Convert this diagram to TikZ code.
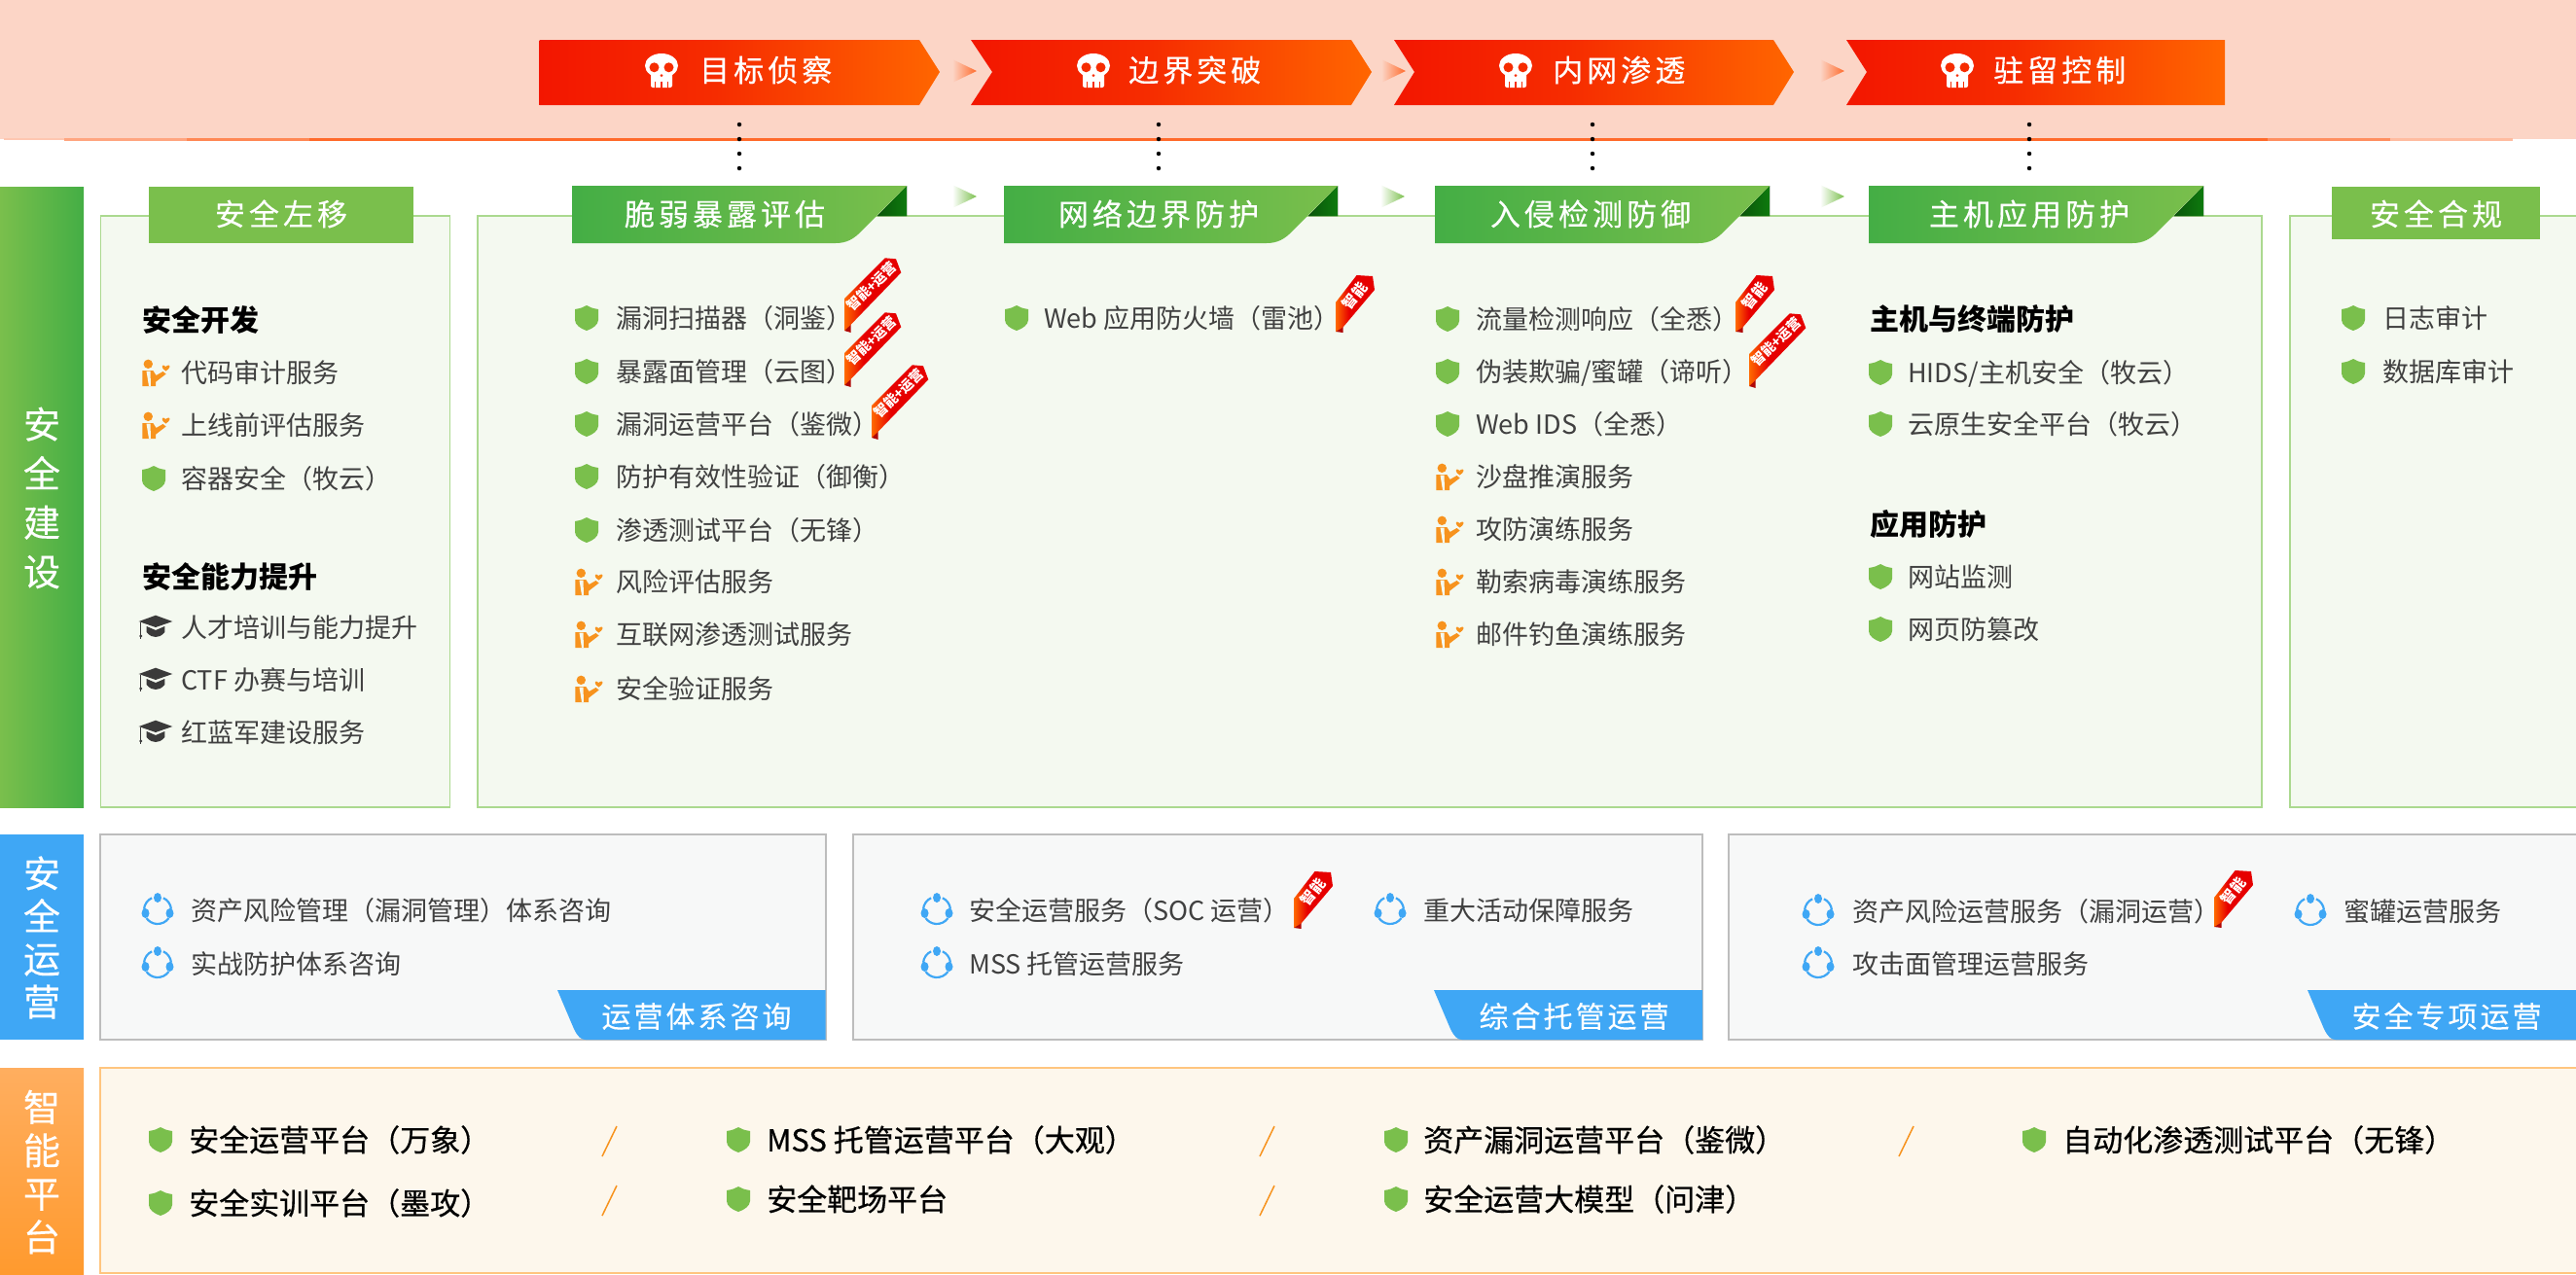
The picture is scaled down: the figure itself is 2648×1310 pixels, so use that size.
\documentclass[tikz,border=0pt]{standalone}
\usepackage{fontspec}
\setmainfont{Noto Sans CJK SC}
\newfontfamily\headfont[LetterSpace=13,FakeBold=0.3]{Noto Sans CJK SC}
\newfontfamily\opfont[LetterSpace=10,FakeBold=0.2]{Noto Sans CJK SC}
\newfontfamily\sidefont[FakeBold=0.3]{Noto Sans CJK SC}
\newfontfamily\medfont[FakeBold=0.5]{Noto Sans CJK SC}
\definecolor{bandc}{HTML}{FCD5C6}
\definecolor{lineo}{HTML}{FF6A2B}
\definecolor{chevl}{HTML}{F31600}
\definecolor{chevm}{HTML}{F62C00}
\definecolor{chevr}{HTML}{FF6600}
\definecolor{gdark}{HTML}{44AE45}
\definecolor{glight}{HTML}{7ABF4C}
\definecolor{pfill}{HTML}{F4F9F0}
\definecolor{pline}{HTML}{ABD98F}
\definecolor{bluec}{HTML}{3FA7F5}
\definecolor{opsfill}{HTML}{F7F8F8}
\definecolor{opsline}{HTML}{BDBDBD}
\definecolor{orgtop}{HTML}{FFAE5F}
\definecolor{orgbot}{HTML}{FF9A2E}
\definecolor{orgfill}{HTML}{FDF7EC}
\definecolor{orgline}{HTML}{FFC57F}
\definecolor{txtc}{HTML}{404040}
\definecolor{persc}{HTML}{F7931E}
\definecolor{darktri}{HTML}{0E7A0E}
\definecolor{ribred}{HTML}{E60000}
\definecolor{ribor}{HTML}{FF6A00}
\definecolor{ribdark}{HTML}{B00808}
\definecolor{hatc}{HTML}{3A3A3A}
\pgfdeclarehorizontalshading{ribsh}{100bp}{color(0bp)=(ribor); color(25bp)=(ribor); color(42bp)=(ribred); color(100bp)=(ribred)}
\pgfdeclarehorizontalshading{chevsh}{100bp}{color(0bp)=(chevl); color(25bp)=(chevl); color(47bp)=(chevm); color(75bp)=(chevr); color(100bp)=(chevr)}
\tikzset{
 itxt/.style={anchor=west,inner sep=0pt,text=txtc,font=\fontsize{27}{27}\selectfont,text height=23.8pt,text depth=3.2pt},
 htxt/.style={anchor=west,inner sep=0pt,text=black,font=\fontsize{30}{30}\selectfont\bfseries,text height=26.4pt,text depth=3.6pt},
 btxt/.style={anchor=west,inner sep=0pt,text=black,font=\fontsize{31}{31}\selectfont\medfont,text height=27.3pt,text depth=3.7pt},
 wtxt/.style={inner sep=0pt,text=white,font=\fontsize{31}{31}\selectfont\headfont,text height=27.3pt,text depth=3.7pt},
 otxt/.style={inner sep=0pt,text=white,font=\fontsize{30}{30}\selectfont\opfont,text height=26.4pt,text depth=3.6pt},
 chtxt/.style={wtxt,anchor=west},
 sidetxt/.style={inner sep=0pt,text=white,align=center,font=\fontsize{38}{#1}\selectfont\sidefont},
 panel/.style={fill=pfill,draw=pline,line width=1.5pt},
 opanel/.style={fill=opsfill,draw=opsline,line width=2pt},
 chev/.style={shading=chevsh},
 ribshade/.style={shading=ribsh},
 ghd/.style={left color=gdark,right color=glight},
 slashl/.style={draw=persc,line width=1.5pt},
 dotl/.style={line width=4.5pt,line cap=round,dash pattern=on 0pt off 15pt,black},
 ribtxt/.style={inner sep=0pt,text=white,font=\fontsize{#1}{#1}\selectfont\bfseries},
 opsicon/.style={draw=bluec,line width=2.2pt},
}
\newcounter{nn}
\newcommand\skullat[2]{\begin{scope}[shift={(#1,#2)}]
 \fill[white] (0,-4.5) ellipse (17 and 12.5);
 \fill[white,rounded corners=2pt] (-11,0) rectangle (11,18);
 \fill[chevm] (-7.5,-2.7) circle (5);
 \fill[chevm] (7.5,-2.7) circle (5);
 \fill[chevm] (0,5.7) circle (1.5);
 \foreach \q in {-6.3,0,6.3}{\draw[chevm,line width=1.4pt] (\q,11.5) -- (\q,18.5);}
 \end{scope}}
\newcommand\shieldat[2]{\begin{scope}[shift={(#1,#2)}]
 \fill[glight] (-12,-9) .. controls (-6,-10) and (-3,-11) .. (0,-13) .. controls (3,-11) and (6,-10) .. (12,-9) -- (12,2) .. controls (12,7) and (6,11) .. (0,13) .. controls (-6,11) and (-12,7) .. (-12,2) -- cycle;
 \end{scope}}
\newcommand\persat[2]{\begin{scope}[shift={(#1,#2)}]
 \fill[persc] (-7.7,-8.7) circle (4.7);
 \fill[persc] (-13.7,-2) -- (-2.7,-2) -- (0.5,3) -- (7.5,-1) -- (10.7,1.5) -- (0,9.7) -- (0,14) -- (-13.7,14) -- cycle;
 \fill[pfill] (-9.5,-1.5) -- (-5.5,-1.5) -- (-5,14) -- (-7,14) -- cycle;
 \fill[persc] (10.5,-1.5) .. controls (6,-4) and (6,-7.5) .. (8,-7.5) .. controls (9.5,-7.5) and (10,-6.5) .. (10.5,-6) .. controls (11,-6.5) and (12,-7.5) .. (13.5,-7.5) .. controls (15,-7.5) and (15,-4) .. (10.5,-1.5) -- cycle;
 \end{scope}}
\newcommand\hatat[2]{\begin{scope}[shift={(#1,#2)}]
 \fill[hatc] (0,-12.3) -- (17.3,-6) -- (0,0) -- (-17.3,-6) -- cycle;
 \fill[hatc] (-9.3,-1) -- (0,3) -- (9.3,-1) -- (9.3,5) .. controls (6,9) and (3,10) .. (0,10) .. controls (-3,10) and (-6,9) .. (-9.3,5) -- cycle;
 \draw[hatc,line width=1pt] (-15.3,-5) -- (-15.3,12);
 \fill[hatc] (-15.3,9) circle (1.6);
 \end{scope}}
\newcommand\opsat[2]{\begin{scope}[shift={(#1,#2+1)}]
 \draw[opsicon] (0,0) ++(35:14) arc (35:145:14);
 \draw[opsicon] (0,0) ++(185:14) arc (185:245:14);
 \draw[opsicon] (0,0) ++(295:14) arc (295:355:14);
 \fill[bluec] (0,-13) ellipse (4 and 5);
 \fill[bluec] (-12.5,3) ellipse (4 and 5);
 \fill[bluec] (12.5,3) ellipse (4 and 5);
 \end{scope}}
% icon x, text x, y, text
\newcommand\ilS[4]{\shieldat{#1}{#3}\stepcounter{nn}\node[itxt] (t\arabic{nn}) at (#2,#3) {#4};}
\newcommand\ilP[4]{\persat{#1}{#3}\stepcounter{nn}\node[itxt] (t\arabic{nn}) at (#2,#3) {#4};}
\newcommand\ilH[4]{\hatat{#1}{#3}\stepcounter{nn}\node[itxt] (t\arabic{nn}) at (#2,#3) {#4};}
\newcommand\ilO[4]{\opsat{#1}{#3}\stepcounter{nn}\node[itxt,yshift=-1.2pt] (t\arabic{nn}) at (#2,#3) {#4};}
\newcommand\ilB[4]{\shieldat{#1}{#3}\stepcounter{nn}\node[btxt] (t\arabic{nn}) at (#2,#3) {#4};}
\newcommand\hdg[3]{\stepcounter{nn}\node[htxt] (t\arabic{nn}) at (#1,#2) {#3};}
% left, right, text centre, label
\newcommand\ghead[4]{\pgfmathsetmacro\ha{#2-30}\pgfmathsetmacro\hb{#2-45}\pgfmathsetmacro\hc{#2-54}\pgfmathsetmacro\hd{#2-62}\pgfmathsetmacro\he{#2-73}
 \fill[left color=darktri!70!black,right color=darktri] (#2,191) -- (#2,222) -- (\ha,222) -- cycle;
 \shade[ghd] (#1,191) -- (#2,191) -- (\hb,236) .. controls (\hc,246) and (\hd,250) .. (\he,250) -- (#1,250) -- cycle;
 \stepcounter{nn}\node[wtxt] (t\arabic{nn}) at (#3,220) {#4};}
\newcommand\chevtext[3]{\stepcounter{nn}\node[chtxt] (t\arabic{nn}) at (#1,#2) {#3};}
% x, start colour, end colour, y
\newcommand\garrow[4]{\pgfmathsetmacro\ha{#1+25}\shade[left color=#2,right color=#3] (#1,#4-12) -- (\ha,#4) -- (#1,#4+12) -- cycle;}
\newcommand\ribA[2]{\begin{scope}[shift={(#1,#2)}]
 \fill[ribdark] (0,-3) -- (6.7,-8) -- (6.7,1) -- (0,-1) -- cycle;
 \shade[ribshade] (0,-34) -- (41.7,-75.7) -- (53,-74.7) -- (58.3,-60.7) -- (6.7,-7.3) -- (0,-1) -- cycle;
 \stepcounter{nn}\node[ribtxt=14,rotate=44] (t\arabic{nn}) at (27.7,-46.7) {智能+运营};
 \end{scope}}
\newcommand\ribB[2]{\begin{scope}[shift={(#1,#2)}]
 \fill[ribdark] (0,-3) -- (7.7,-7) -- (7.7,0) -- (0,-1) -- cycle;
 \shade[ribshade] (0,-31) -- (21.6,-59) -- (38,-58) -- (40,-44) -- (7.7,-5.7) -- (0,-1) -- cycle;
 \stepcounter{nn}\node[ribtxt=15,rotate=52] (t\arabic{nn}) at (19.5,-38) {智能};
 \end{scope}}
\newcommand\blabel[4]{\pgfmathsetmacro\ha{#1+17}\pgfmathsetmacro\hb{#1+21}\pgfmathsetmacro\hc{#1+24}\pgfmathsetmacro\hd{#1+29}
 \fill[bluec] (#1,1018) -- (#2,1018) -- (#2,1069) -- (\hd,1069) .. controls (\hc,1069) and (\hb,1066) .. (\ha,1058) -- cycle;
 \stepcounter{nn}\node[otxt] (t\arabic{nn}) at (#3,1045) {#4};}
\begin{document}
\begin{tikzpicture}[x=1pt,y=-1pt]
\useasboundingbox (0,0) rectangle (2648,1310);
% top band with its stepped rule
\fill[bandc] (0,0) rectangle (2648,142.7);
\fill[bandc!65!lineo!70!white] (4,142) rectangle (66,144);
\fill[lineo!60!white] (66,142) rectangle (192,144.5);
\fill[lineo!80!white] (192,142) rectangle (318,144.5);
\fill[lineo] (318,142) rectangle (2331,144.5);
\fill[lineo!75!white] (2331,142) rectangle (2457,144.5);
\fill[lineo!45!white] (2457,142) rectangle (2583,144.5);
% chevrons
\garrow{979}{bandc}{lineo}{73}\garrow{1420}{bandc}{lineo}{73}\garrow{1871}{bandc}{lineo}{73}
\shade[chev] (554.5,41) -- (945,41) -- (966,74) -- (945,108) -- (554.5,108) -- cycle;
\shade[chev] (998,41) -- (1389,41) -- (1410,74) -- (1389,108) -- (998,108) -- (1020,74) -- cycle;
\shade[chev] (1433,41) -- (1823,41) -- (1844,74) -- (1823,108) -- (1433,108) -- (1454,74) -- cycle;
\shade[chev] (1898,41) -- (2287,41) -- (2287,108) -- (1898,108) -- (1919,74) -- cycle;
\skullat{680}{72}\skullat{1124}{72}\skullat{1558}{72}\skullat{2012}{72}
\chevtext{719}{72}{目标侦察}
\chevtext{1160}{72}{边界突破}
\chevtext{1596}{72}{内网渗透}
\chevtext{2049}{72}{驻留控制}
% dotted links
\coordinate (a1) at (760,128);\coordinate (b1) at (760,173);
\coordinate (a2) at (1191,128);\coordinate (b2) at (1191,173);
\coordinate (a3) at (1637,128);\coordinate (b3) at (1637,173);
\coordinate (a4) at (2086,128);\coordinate (b4) at (2086,173);
\foreach \i in {1,2,3,4}{\draw[dotl] (a\i) -- (b\i);}
% side bars
\shade[left color=glight,right color=gdark] (0,192) rectangle (86,830);
\node[sidetxt=50.5] (s1) at (43,512) {安\\全\\建\\设};
\fill[bluec] (0,858) rectangle (86,1069);
\node[sidetxt=44] (s2) at (43,964) {安\\全\\运\\营};
\shade[top color=orgtop,bottom color=orgbot] (0,1098) rectangle (86,1310);
\node[sidetxt=44.5] (s3) at (43,1205) {智\\能\\平\\台};
% panels
\filldraw[panel] (103.5,222) rectangle (462.5,830);
\filldraw[panel] (491,222) rectangle (2325,830);
\filldraw[panel] (2354,222) rectangle (2660,830);
% flat headers
\fill[glight] (153,192) rectangle (425,250);
\node[wtxt] (h1) at (289,220) {安全左移};
\fill[glight] (2397,192) rectangle (2611,246);
\node[wtxt] (h2) at (2504,220) {安全合规};
% green headers
\ghead{588}{932}{745}{脆弱暴露评估}
\ghead{1032}{1375}{1191}{网络边界防护}
\ghead{1475}{1819}{1635}{入侵检测防御}
\ghead{1921}{2265}{2086}{主机应用防护}
\garrow{979}{white}{glight}{202}\garrow{1419}{white}{glight}{202}\garrow{1871}{white}{glight}{202}
% panel 1
\hdg{146}{329}{安全开发}
\ilP{160}{186}{383}{代码审计服务}
\ilP{160}{186}{437}{上线前评估服务}
\ilS{158}{186}{492}{容器安全（牧云）}
\hdg{146}{593}{安全能力提升}
\ilH{160}{186}{645}{人才培训与能力提升}
\ilH{160}{186}{699}{CTF 办赛与培训}
\ilH{160}{186}{753}{红蓝军建设服务}
% col 1
\ilS{603}{633}{327}{漏洞扫描器（洞鉴）}
\ilS{603}{633}{382}{暴露面管理（云图）}
\ilS{603}{633}{436}{漏洞运营平台（鉴微）}
\ilS{603}{633}{490}{防护有效性验证（御衡）}
\ilS{603}{633}{545}{渗透测试平台（无锋）}
\ilP{605}{633}{598}{风险评估服务}
\ilP{605}{633}{652}{互联网渗透测试服务}
\ilP{605}{633}{708}{安全验证服务}
\ribA{868}{341}\ribA{868}{397}\ribA{896}{451}
% col 2
\ilS{1045}{1073}{327}{Web 应用防火墙（雷池）}
\ribB{1373}{342}
% col 3
\ilS{1488}{1517}{328}{流量检测响应（全悉）}
\ilS{1488}{1517}{382}{伪装欺骗/蜜罐（谛听）}
\ilS{1488}{1517}{436}{Web IDS（全悉）}
\ilP{1490}{1517}{490}{沙盘推演服务}
\ilP{1490}{1517}{544}{攻防演练服务}
\ilP{1490}{1517}{598}{勒索病毒演练服务}
\ilP{1490}{1517}{652}{邮件钓鱼演练服务}
\ribB{1784}{342}\ribA{1798}{398}
% col 4
\hdg{1922}{328}{主机与终端防护}
\ilS{1933}{1961}{383}{HIDS/主机安全（牧云）}
\ilS{1933}{1961}{436}{云原生安全平台（牧云）}
\hdg{1922}{539}{应用防护}
\ilS{1933}{1961}{593}{网站监测}
\ilS{1933}{1961}{647}{网页防篡改}
% col 5
\ilS{2419}{2449}{327}{日志审计}
\ilS{2419}{2449}{382}{数据库审计}
% ops row
\filldraw[opanel] (103,858) rectangle (848.5,1069);
\filldraw[opanel] (877,858) rectangle (1750,1069);
\filldraw[opanel] (1777,858) rectangle (2660,1069);
\blabel{573}{848.5}{716}{运营体系咨询}
\blabel{1474}{1750}{1618}{综合托管运营}
\blabel{2372}{2648}{2515}{安全专项运营}
\ilO{162}{196}{935}{资产风险管理（漏洞管理）体系咨询}
\ilO{162}{196}{990}{实战防护体系咨询}
\ilO{963}{996}{935}{安全运营服务（SOC 运营）}
\ilO{963}{996}{990}{MSS 托管运营服务}
\ilO{1429}{1463}{935}{重大活动保障服务}
\ribB{1330}{955}
\ilO{1869}{1904}{936}{资产风险运营服务（漏洞运营）}
\ilO{1869}{1904}{990}{攻击面管理运营服务}
\ilO{2375}{2409}{936}{蜜罐运营服务}
\ribB{2276}{954}
% bottom
\filldraw[fill=orgfill,draw=orgline,line width=1.5pt] (103,1098) rectangle (2660,1309);
\ilB{165}{194}{1172}{安全运营平台（万象）}
\ilB{165}{194}{1237}{安全实训平台（墨攻）}
\ilB{759}{788}{1172}{MSS 托管运营平台（大观）}
\ilB{759}{788}{1233}{安全靶场平台}
\ilB{1435}{1463}{1172}{资产漏洞运营平台（鉴微）}
\ilB{1435}{1463}{1233}{安全运营大模型（问津）}
\ilB{2091}{2120}{1172}{自动化渗透测试平台（无锋）}
\draw[slashl] (619,1189) -- (634,1158);
\draw[slashl] (619,1250) -- (634,1219);
\draw[slashl] (1295,1189) -- (1310,1158);
\draw[slashl] (1295,1250) -- (1310,1219);
\draw[slashl] (1952,1189) -- (1967,1158);
\end{tikzpicture}
\end{document}
